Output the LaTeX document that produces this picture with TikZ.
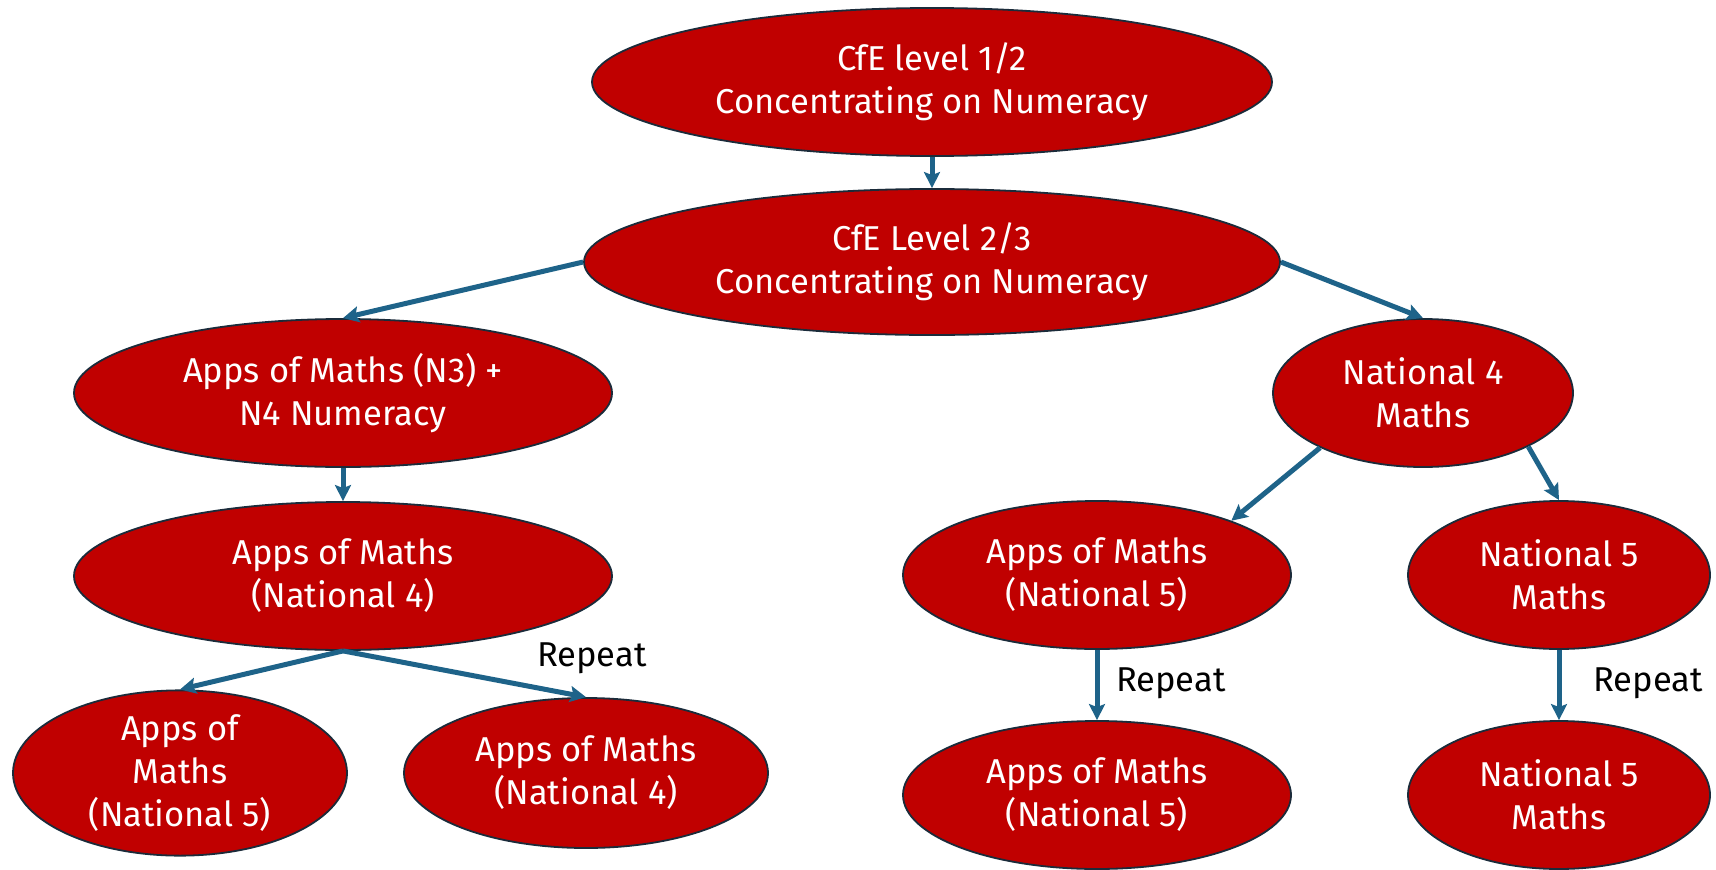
\documentclass[tikz,border=0pt]{standalone}
\usepackage{fontspec}
\setmainfont{Fira Sans}
\usetikzlibrary{shapes.geometric,arrows.meta}
\definecolor{boxred}{HTML}{C00000}
\definecolor{boxedge}{HTML}{1B2B3A}
\definecolor{arrowblue}{HTML}{1E6389}
\tikzset{
  oval/.style={ellipse, draw=boxedge, line width=1.8pt, fill=boxred,
    text=white, align=center, inner sep=0pt,
    font=\fontsize{34.5}{43}\selectfont},
  link/.style={draw=arrowblue, line width=5pt,
    -{Stealth[length=16pt,width=16pt,inset=3pt]}},
  note/.style={text=black, font=\fontsize{34.5}{40}\selectfont}
}
\begin{document}
\begin{tikzpicture}[x=1pt,y=-1pt]
\useasboundingbox (0,0) rectangle (1716,870);
% top of the pathway
\node[oval, minimum width=680pt, minimum height=148pt] (cfe12) at (932,82)
  {CfE level 1/2\\Concentrating on Numeracy};
\node[oval, minimum width=696pt, minimum height=146pt] (cfe23) at (932,262)
  {CfE Level 2/3\\Concentrating on Numeracy};
% left branch
\node[oval, minimum width=538pt, minimum height=148pt] (aomn3) at (343,393)
  {Apps of Maths (N3) +\\N4 Numeracy};
\node[oval, minimum width=538pt, minimum height=148pt] (aomn4) at (343,576)
  {Apps of Maths\\(National 4)};
\node[oval, minimum width=334pt, minimum height=150pt] (aomn5a) at (180,773)
  {Apps of\\Maths\\(National 5)};
\node[oval, minimum width=364pt, minimum height=150pt] (aomn4r) at (586,773)
  {Apps of Maths\\(National 4)};
% right branch
\node[oval, minimum width=300pt, minimum height=148pt] (natfour) at (1423,393)
  {National 4\\Maths};
\node[oval, minimum width=388pt, minimum height=148pt] (aomn5b) at (1097,575)
  {Apps of Maths\\(National 5)};
\node[oval, minimum width=302pt, minimum height=148pt] (natfive) at (1559,575)
  {National 5\\Maths};
\node[oval, minimum width=388pt, minimum height=148pt] (aomn5r) at (1097,795)
  {Apps of Maths\\(National 5)};
\node[oval, minimum width=302pt, minimum height=148pt] (natfiver) at (1559,795)
  {National 5\\Maths};
% connectors
\draw[link] (cfe12.south) -- (cfe23.north);
\draw[link] (cfe23.west) -- (aomn3.north);
\draw[link] (cfe23.east) -- (natfour.north);
\draw[link] (aomn3.south) -- (aomn4.north);
\draw[link] (aomn4.south) -- (aomn5a.north);
\draw[link] (aomn4.south) -- (aomn4r.north);
\draw[link] (natfour.208) -- (aomn5b.22);
\draw[link] (natfour.333) -- (natfive.north);
\draw[link] (aomn5b.south) -- (aomn5r.north);
\draw[link] (natfive.south) -- (natfiver.north);
% repeat labels
\node[note] (rep1) at (592,658) {Repeat};
\node[note] (rep2) at (1171,683) {Repeat};
\node[note] (rep3) at (1648,683) {Repeat};
\end{tikzpicture}
\end{document}
